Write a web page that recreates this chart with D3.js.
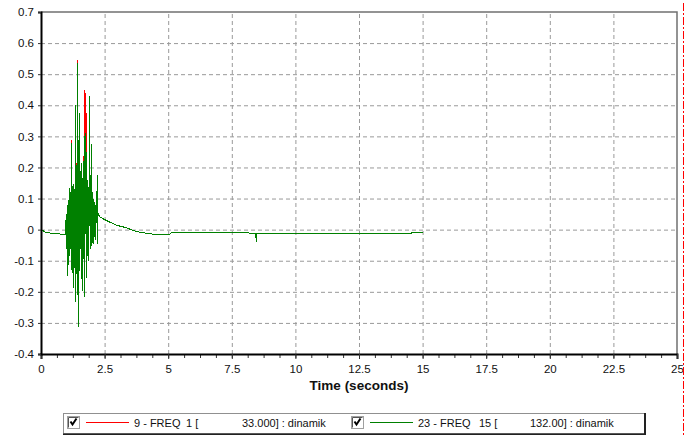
<!DOCTYPE html>
<html>
<head>
<meta charset="utf-8">
<script src="https://cdn.jsdelivr.net/npm/d3@7"></script>
<style>
  body { margin: 0; background: #fff; }
  svg { display: block; font-family: "Liberation Sans", Arial, sans-serif; }
  .grid line { stroke: #999; stroke-dasharray: 4,3; }
  .grid path { display: none; }
  .tick text { fill: #111; font-size: 11.5px; }
</style>
</head>
<body>
<svg id="chart"></svg>
<script>
const chartSize = { width: 694, height: 435 };
const plot = { left: 41, right: 677, top: 12, bottom: 354 };

// time axis (seconds)
const timeSec = [
  0, 0.15, 0.5, 0.9, 0.94, 0.96, 0.98, 1.00, 1.01, 1.03,
  1.05, 1.07, 1.08, 1.10, 1.12, 1.14, 1.15, 1.17, 1.18, 1.19,
  1.21, 1.22, 1.24, 1.26, 1.27, 1.29, 1.31, 1.33, 1.34, 1.35,
  1.37, 1.38, 1.40, 1.42, 1.44, 1.46, 1.48, 1.50, 1.52, 1.53,
  1.55, 1.57, 1.58, 1.60, 1.62, 1.63, 1.65, 1.67, 1.69, 1.70,
  1.72, 1.74, 1.75, 1.77, 1.79, 1.81, 1.83, 1.85, 1.86, 1.88,
  1.90, 1.92, 1.95, 1.97, 1.99, 2.01, 2.03, 2.06, 2.08, 2.10,
  2.12, 2.14, 2.16, 2.19, 2.20, 2.22, 2.24, 2.28, 2.40, 2.70,
  3.0, 3.3, 3.6, 3.9, 4.2, 4.5, 5.05, 5.1, 8.1, 8.2,
  8.42, 8.44, 8.46, 14.5, 14.6, 14.98
];

// 9 - FREQ  1 [33.000] : dinamik
const freq9 = [
  0.002, -0.006, -0.012, -0.013, -0.01, 0.03, -0.06, 0.05, -0.145, 0.08,
  -0.09, 0.10, -0.11, 0.134, -0.08, 0.12, -0.06, 0.10, 0.29, -0.12,
  -0.135, 0.14, -0.10, 0.15, -0.183, 0.13, -0.12, 0.18, 0.405, -0.231,
  0.16, -0.14, 0.545, -0.10, -0.31, 0.20, 0.375, -0.13, 0.19, -0.06,
  0.16, 0.215, -0.12, -0.194, 0.17, -0.11, 0.236, -0.09, 0.45, -0.215,
  0.18, 0.44, -0.151, 0.375, -0.08, 0.16, -0.07, 0.14, -0.097, 0.12,
  0.43, -0.06, 0.276, -0.05, 0.12, -0.04, 0.10, -0.043, 0.09, -0.02,
  0.08, -0.03, 0.07, 0.176, -0.043, 0.06, 0.05, 0.045, 0.037, 0.025,
  0.015, 0.007, 0.0, -0.006, -0.011, -0.0135, -0.0135, -0.009, -0.009, -0.012,
  -0.012, -0.038, -0.012, -0.012, -0.009, -0.009
];

// 23 - FREQ  15 [132.00] : dinamik
const freq23 = [
  0.002, -0.006, -0.012, -0.013, -0.01, 0.03, -0.06, 0.05, -0.145, 0.08,
  -0.09, 0.10, -0.11, 0.134, -0.08, 0.12, -0.06, 0.10, 0.283, -0.12,
  -0.135, 0.14, -0.10, 0.15, -0.183, 0.13, -0.12, 0.18, 0.405, -0.231,
  0.16, -0.14, 0.535, -0.10, -0.31, 0.20, 0.375, -0.13, 0.19, -0.06,
  0.16, 0.215, -0.12, -0.194, 0.17, -0.11, 0.22, -0.09, 0.30, -0.215,
  0.18, 0.31, -0.151, 0.25, -0.08, 0.16, -0.07, 0.14, -0.097, 0.12,
  0.43, -0.06, 0.276, -0.05, 0.12, -0.04, 0.10, -0.043, 0.09, -0.02,
  0.08, -0.03, 0.07, 0.176, -0.043, 0.06, 0.05, 0.045, 0.037, 0.025,
  0.015, 0.007, 0.0, -0.006, -0.011, -0.0135, -0.0135, -0.009, -0.009, -0.012,
  -0.012, -0.038, -0.012, -0.012, -0.009, -0.009
];

const xTicks = [0, 2.5, 5, 7.5, 10, 12.5, 15, 17.5, 20, 22.5, 25];
const yTicks = [0.7, 0.6, 0.5, 0.4, 0.3, 0.2, 0.1, 0, -0.1, -0.2, -0.3, -0.4];

const seriesList = [
  { name: "9 - FREQ", idx: "1 [", value: "33.000] : dinamik", color: "#ff0000", values: freq9,
    at: 67, nameX: 67, idxX: 119, valueX: 175 },
  { name: "23 - FREQ", idx: "15 [", value: "132.00] : dinamik", color: "#008000", values: freq23,
    at: 351, nameX: 67, idxX: 128, valueX: 179 }
];

const x = d3.scaleLinear().domain([0, 25]).range([plot.left, plot.right]);
const y = d3.scaleLinear().domain([-0.4, 0.7]).range([plot.bottom, plot.top]);
const plotW = plot.right - plot.left;
const plotH = plot.bottom - plot.top;

// snap to pixel centres so both traces rasterise like the original GDI plot
const px = v => Math.round(v) + 0.5;

const svg = d3.select("#chart")
  .attr("width", chartSize.width)
  .attr("height", chartSize.height);

// grid
svg.append("g")
  .attr("class", "grid")
  .attr("transform", `translate(0,${plot.bottom})`)
  .call(d3.axisBottom(x).tickValues(xTicks.slice(1, -1)).tickSize(-plotH).tickFormat(""));

svg.append("g")
  .attr("class", "grid")
  .attr("transform", `translate(${plot.left},0)`)
  .call(d3.axisLeft(y).tickValues(yTicks.slice(1, -1)).tickSize(-plotW).tickFormat(""));

// frame (top / right)
svg.append("path")
  .attr("d", `M${plot.left},${plot.top}H${plot.right}V${plot.bottom}`)
  .attr("fill", "none")
  .attr("stroke", "#707070")
  .attr("stroke-width", 1.5);

// series (red underneath, green on top)
const line = values => d3.line()
  .x((d, i) => px(x(timeSec[i])))
  .y(d => px(y(d)))(values);

svg.append("g")
  .selectAll("path")
  .data(seriesList)
  .join("path")
  .attr("d", s => line(s.values))
  .attr("fill", "none")
  .attr("stroke", s => s.color)
  .attr("stroke-width", 1)
  .attr("shape-rendering", "crispEdges");

// minor x ticks
svg.append("g")
  .attr("transform", `translate(0,${plot.bottom})`)
  .call(d3.axisBottom(x).tickValues(d3.range(0, 25.01, 0.625)).tickSize(4).tickFormat(""))
  .call(g => g.select(".domain").remove())
  .call(g => g.selectAll("line").attr("stroke", "#333"));

// x axis
const fmtX = d => String(d);
svg.append("g")
  .attr("transform", `translate(0,${plot.bottom})`)
  .call(d3.axisBottom(x).tickValues(xTicks).tickSize(5).tickPadding(6).tickFormat(fmtX))
  .call(g => g.select(".domain").attr("stroke", "#000").attr("stroke-width", 2))
  .call(g => g.selectAll(".tick line").attr("stroke", "#333"));

// y axis
const fmtY = d => (d === 0 ? "0" : d3.format(".1f")(d).replace("−", "-"));
svg.append("g")
  .attr("transform", `translate(${plot.left},0)`)
  .call(d3.axisLeft(y).tickValues(yTicks).tickSize(3).tickPadding(4).tickFormat(fmtY))
  .call(g => g.select(".domain").attr("stroke", "#000").attr("stroke-width", 2))
  .call(g => g.selectAll(".tick line").attr("stroke", "#333"));

// axis title
svg.append("text")
  .attr("x", (plot.left + plot.right) / 2)
  .attr("y", 390)
  .attr("text-anchor", "middle")
  .attr("font-size", "13.5px")
  .attr("font-weight", "bold")
  .attr("fill", "#111")
  .text("Time (seconds)");

// cursor line
svg.append("line")
  .attr("x1", 683.5).attr("x2", 683.5)
  .attr("y1", 3).attr("y2", chartSize.height)
  .attr("stroke", "#ff0000")
  .attr("stroke-width", 1)
  .attr("stroke-dasharray", "8,2,2,2");

// legend
const legend = svg.append("g");
legend.append("rect")
  .attr("x", 63.5).attr("y", 413.5)
  .attr("width", 581).attr("height", 20)
  .attr("fill", "#fff")
  .attr("stroke", "#909090");
legend.append("path")
  .attr("d", "M645,413V434.5H63")
  .attr("fill", "none")
  .attr("stroke", "#222")
  .attr("stroke-width", 2);

const items = legend.selectAll("g.item")
  .data(seriesList)
  .join("g")
  .attr("class", "item")
  .attr("transform", d => `translate(${d.at},0)`);

items.append("rect")
  .attr("x", 0.5).attr("y", 416.5)
  .attr("width", 12).attr("height", 12)
  .attr("fill", "#fff")
  .attr("stroke", "#a0a0a0");
items.append("path")
  .attr("d", "M1.5,427.5V417.5H11.5")
  .attr("fill", "none")
  .attr("stroke", "#555");
items.append("path")
  .attr("d", "M3.5,421.5L5.5,424.5L9.5,418.5")
  .attr("fill", "none")
  .attr("stroke", "#000")
  .attr("stroke-width", 2);

items.append("line")
  .attr("x1", 19).attr("x2", 62)
  .attr("y1", 422.5).attr("y2", 422.5)
  .attr("stroke", d => d.color);

const legendText = (sel, pos, key) =>
  sel.append("text")
    .attr("x", pos)
    .attr("y", 427)
    .attr("font-size", "11px")
    .attr("fill", "#111")
    .text(key);

legendText(items, d => d.nameX, d => d.name);
legendText(items, d => d.idxX, d => d.idx);
legendText(items, d => d.valueX, d => d.value);
</script>
</body>
</html>
